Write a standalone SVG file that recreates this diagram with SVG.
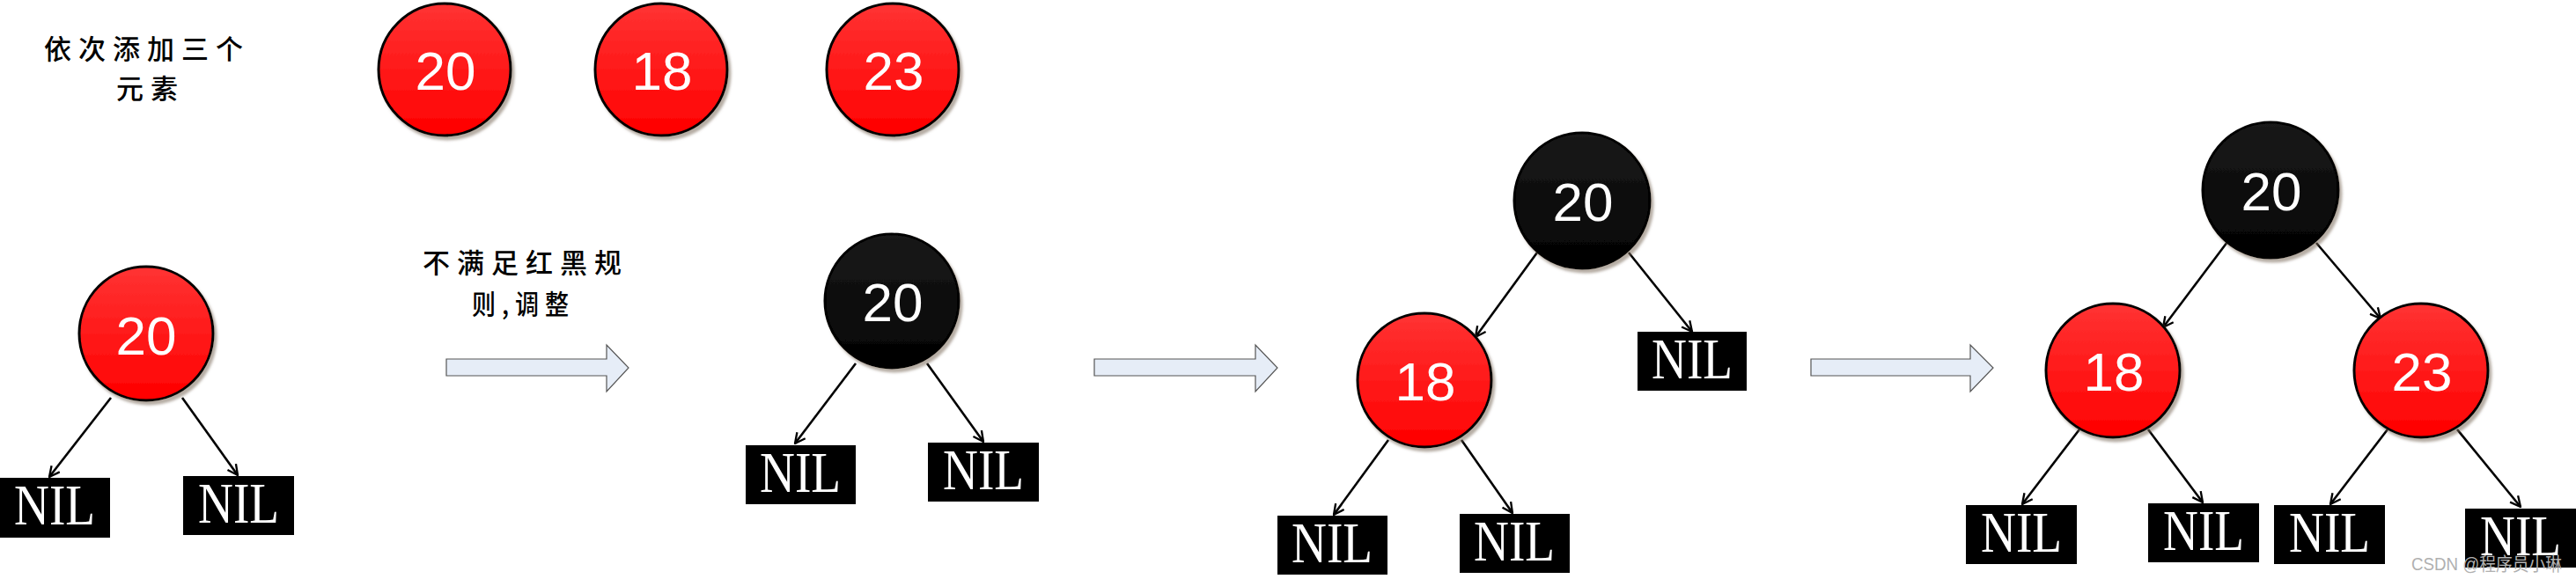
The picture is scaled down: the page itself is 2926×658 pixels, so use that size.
<svg xmlns="http://www.w3.org/2000/svg" width="2926" height="658" viewBox="0 0 2926 658">
<defs>
<linearGradient id="gRed" x1="0" y1="0" x2="0" y2="1"><stop offset="0" stop-color="#ff3333"/><stop offset="1" stop-color="#ff0000"/></linearGradient>
<linearGradient id="gBlk" x1="0" y1="0" x2="0" y2="1"><stop offset="0" stop-color="#1a1a1a"/><stop offset="1" stop-color="#020202"/></linearGradient>
<filter id="sh" x="-20%" y="-20%" width="140%" height="140%"><feDropShadow dx="3" dy="4" stdDeviation="1.5" flood-color="#7a6a58" flood-opacity="0.55"/></filter>
<marker id="ah" viewBox="0 0 12 12" refX="11" refY="6" markerWidth="14" markerHeight="14" markerUnits="userSpaceOnUse" orient="auto"><path d="M1,1 L11,6 L1,11" fill="none" stroke="#000" stroke-width="2"/></marker>
<style>
.red{fill:url(#gRed);stroke:#000;stroke-width:3;filter:url(#sh)}
.blk{fill:url(#gBlk);stroke:#000;stroke-width:3;filter:url(#sh)}
.num{font-family:"Liberation Sans","DejaVu Sans",sans-serif;font-size:62px;fill:#fff;text-anchor:middle}
.nilbox{fill:#000}
.nil{font-family:"Liberation Serif","DejaVu Serif",serif;font-size:66px;fill:#fff;text-anchor:middle}
.cn{font-family:"Noto Sans CJK SC",sans-serif;font-size:31px;font-weight:500;fill:#000;letter-spacing:8px}
.edge{stroke:#000;stroke-width:2.6;fill:none;marker-end:url(#ah)}
.barrow{fill:#e6edf7;stroke:#555;stroke-width:1.2}
.wm{font-family:"Liberation Sans","Noto Sans CJK SC",sans-serif;font-size:21px;fill:#b0b0b0}
</style>
</defs>

<g id="label-add">
<text class="cn" x="50" y="67">依次添加三个</text>
<text class="cn" x="132" y="112">元素</text>
</g>
<g id="label-adjust">
<text class="cn" x="480" y="310">不满足红黑规</text>
<text class="cn" x="536" y="357" textLength="117" lengthAdjust="spacingAndGlyphs">则,调整</text>
</g>

<g id="in-20"><circle class="red" cx="505" cy="79" r="75"/><text class="num" x="506" y="102">20</text></g>
<g id="in-18"><circle class="red" cx="751" cy="79" r="75"/><text class="num" x="752" y="102">18</text></g>
<g id="in-23"><circle class="red" cx="1014" cy="79" r="75"/><text class="num" x="1015" y="102">23</text></g>

<g id="connectors">
<line class="edge" x1="126" y1="452" x2="56" y2="542"/>
<line class="edge" x1="207" y1="452" x2="270" y2="540"/>
<line class="edge" x1="972" y1="413" x2="903" y2="504"/>
<line class="edge" x1="1053" y1="413" x2="1117" y2="502"/>
<line class="edge" x1="1746" y1="287" x2="1676" y2="383"/>
<line class="edge" x1="1850" y1="287" x2="1922" y2="377"/>
<line class="edge" x1="1577" y1="500" x2="1515" y2="585"/>
<line class="edge" x1="1660" y1="500" x2="1718" y2="583"/>
<line class="edge" x1="2530" y1="275" x2="2457" y2="372"/>
<line class="edge" x1="2631" y1="276" x2="2704" y2="362"/>
<line class="edge" x1="2362" y1="488" x2="2297" y2="573"/>
<line class="edge" x1="2440" y1="488" x2="2502" y2="571"/>
<line class="edge" x1="2712" y1="488" x2="2647" y2="573"/>
<line class="edge" x1="2791" y1="488" x2="2863" y2="576"/>
</g>

<g id="step-arrows">
<path class="barrow" d="M507,408 H689 V392 L714,418 L689,445 V427 H507 Z"/>
<path class="barrow" d="M1243,408 H1426 V392 L1451,418 L1426,445 V427 H1243 Z"/>
<path class="barrow" d="M2057,408 H2238 V392 L2264,418 L2238,445 V427 H2057 Z"/>
</g>

<!-- tree 1 -->
<g id="t1-20"><circle class="red" cx="166" cy="379" r="76"/><text class="num" x="166" y="403">20</text></g>
<g id="t1-nil-l"><rect class="nilbox" x="0" y="543" width="125" height="68"/><text class="nil" x="62" y="596" textLength="92" lengthAdjust="spacingAndGlyphs">NIL</text></g>
<g id="t1-nil-r"><rect class="nilbox" x="208" y="541" width="126" height="67"/><text class="nil" x="271" y="594" textLength="92" lengthAdjust="spacingAndGlyphs">NIL</text></g>

<!-- tree 2 -->
<g id="t2-20"><circle class="blk" cx="1013" cy="342" r="76"/><text class="num" x="1014" y="365">20</text></g>
<g id="t2-nil-l"><rect class="nilbox" x="847" y="506" width="125" height="67"/><text class="nil" x="909" y="559" textLength="92" lengthAdjust="spacingAndGlyphs">NIL</text></g>
<g id="t2-nil-r"><rect class="nilbox" x="1054" y="503" width="126" height="67"/><text class="nil" x="1117" y="556" textLength="92" lengthAdjust="spacingAndGlyphs">NIL</text></g>

<!-- tree 3 -->
<g id="t3-20"><circle class="blk" cx="1797" cy="228" r="77"/><text class="num" x="1798" y="251">20</text></g>
<g id="t3-18"><circle class="red" cx="1618" cy="432" r="76"/><text class="num" x="1619" y="455">18</text></g>
<g id="t3-nil-r"><rect class="nilbox" x="1860" y="377" width="124" height="67"/><text class="nil" x="1922" y="430" textLength="92" lengthAdjust="spacingAndGlyphs">NIL</text></g>
<g id="t3-nil-ll"><rect class="nilbox" x="1451" y="586" width="125" height="67"/><text class="nil" x="1513" y="639" textLength="92" lengthAdjust="spacingAndGlyphs">NIL</text></g>
<g id="t3-nil-lr"><rect class="nilbox" x="1658" y="584" width="125" height="67"/><text class="nil" x="1720" y="637" textLength="92" lengthAdjust="spacingAndGlyphs">NIL</text></g>

<!-- tree 4 -->
<g id="t4-20"><circle class="blk" cx="2579" cy="216" r="77"/><text class="num" x="2580" y="239">20</text></g>
<g id="t4-18"><circle class="red" cx="2400" cy="421" r="76"/><text class="num" x="2401" y="444">18</text></g>
<g id="t4-23"><circle class="red" cx="2750" cy="421" r="76"/><text class="num" x="2751" y="444">23</text></g>
<g id="t4-nil-1"><rect class="nilbox" x="2233" y="574" width="126" height="67"/><text class="nil" x="2296" y="627" textLength="92" lengthAdjust="spacingAndGlyphs">NIL</text></g>
<g id="t4-nil-2"><rect class="nilbox" x="2440" y="572" width="126" height="67"/><text class="nil" x="2503" y="625" textLength="92" lengthAdjust="spacingAndGlyphs">NIL</text></g>
<g id="t4-nil-3"><rect class="nilbox" x="2583" y="574" width="126" height="67"/><text class="nil" x="2646" y="627" textLength="92" lengthAdjust="spacingAndGlyphs">NIL</text></g>
<g id="t4-nil-4"><rect class="nilbox" x="2800" y="578" width="126" height="67"/><text class="nil" x="2863" y="631" textLength="92" lengthAdjust="spacingAndGlyphs">NIL</text></g>

<text class="wm" x="2739" y="648" textLength="171" lengthAdjust="spacingAndGlyphs">CSDN @程序员小琳</text>
</svg>
